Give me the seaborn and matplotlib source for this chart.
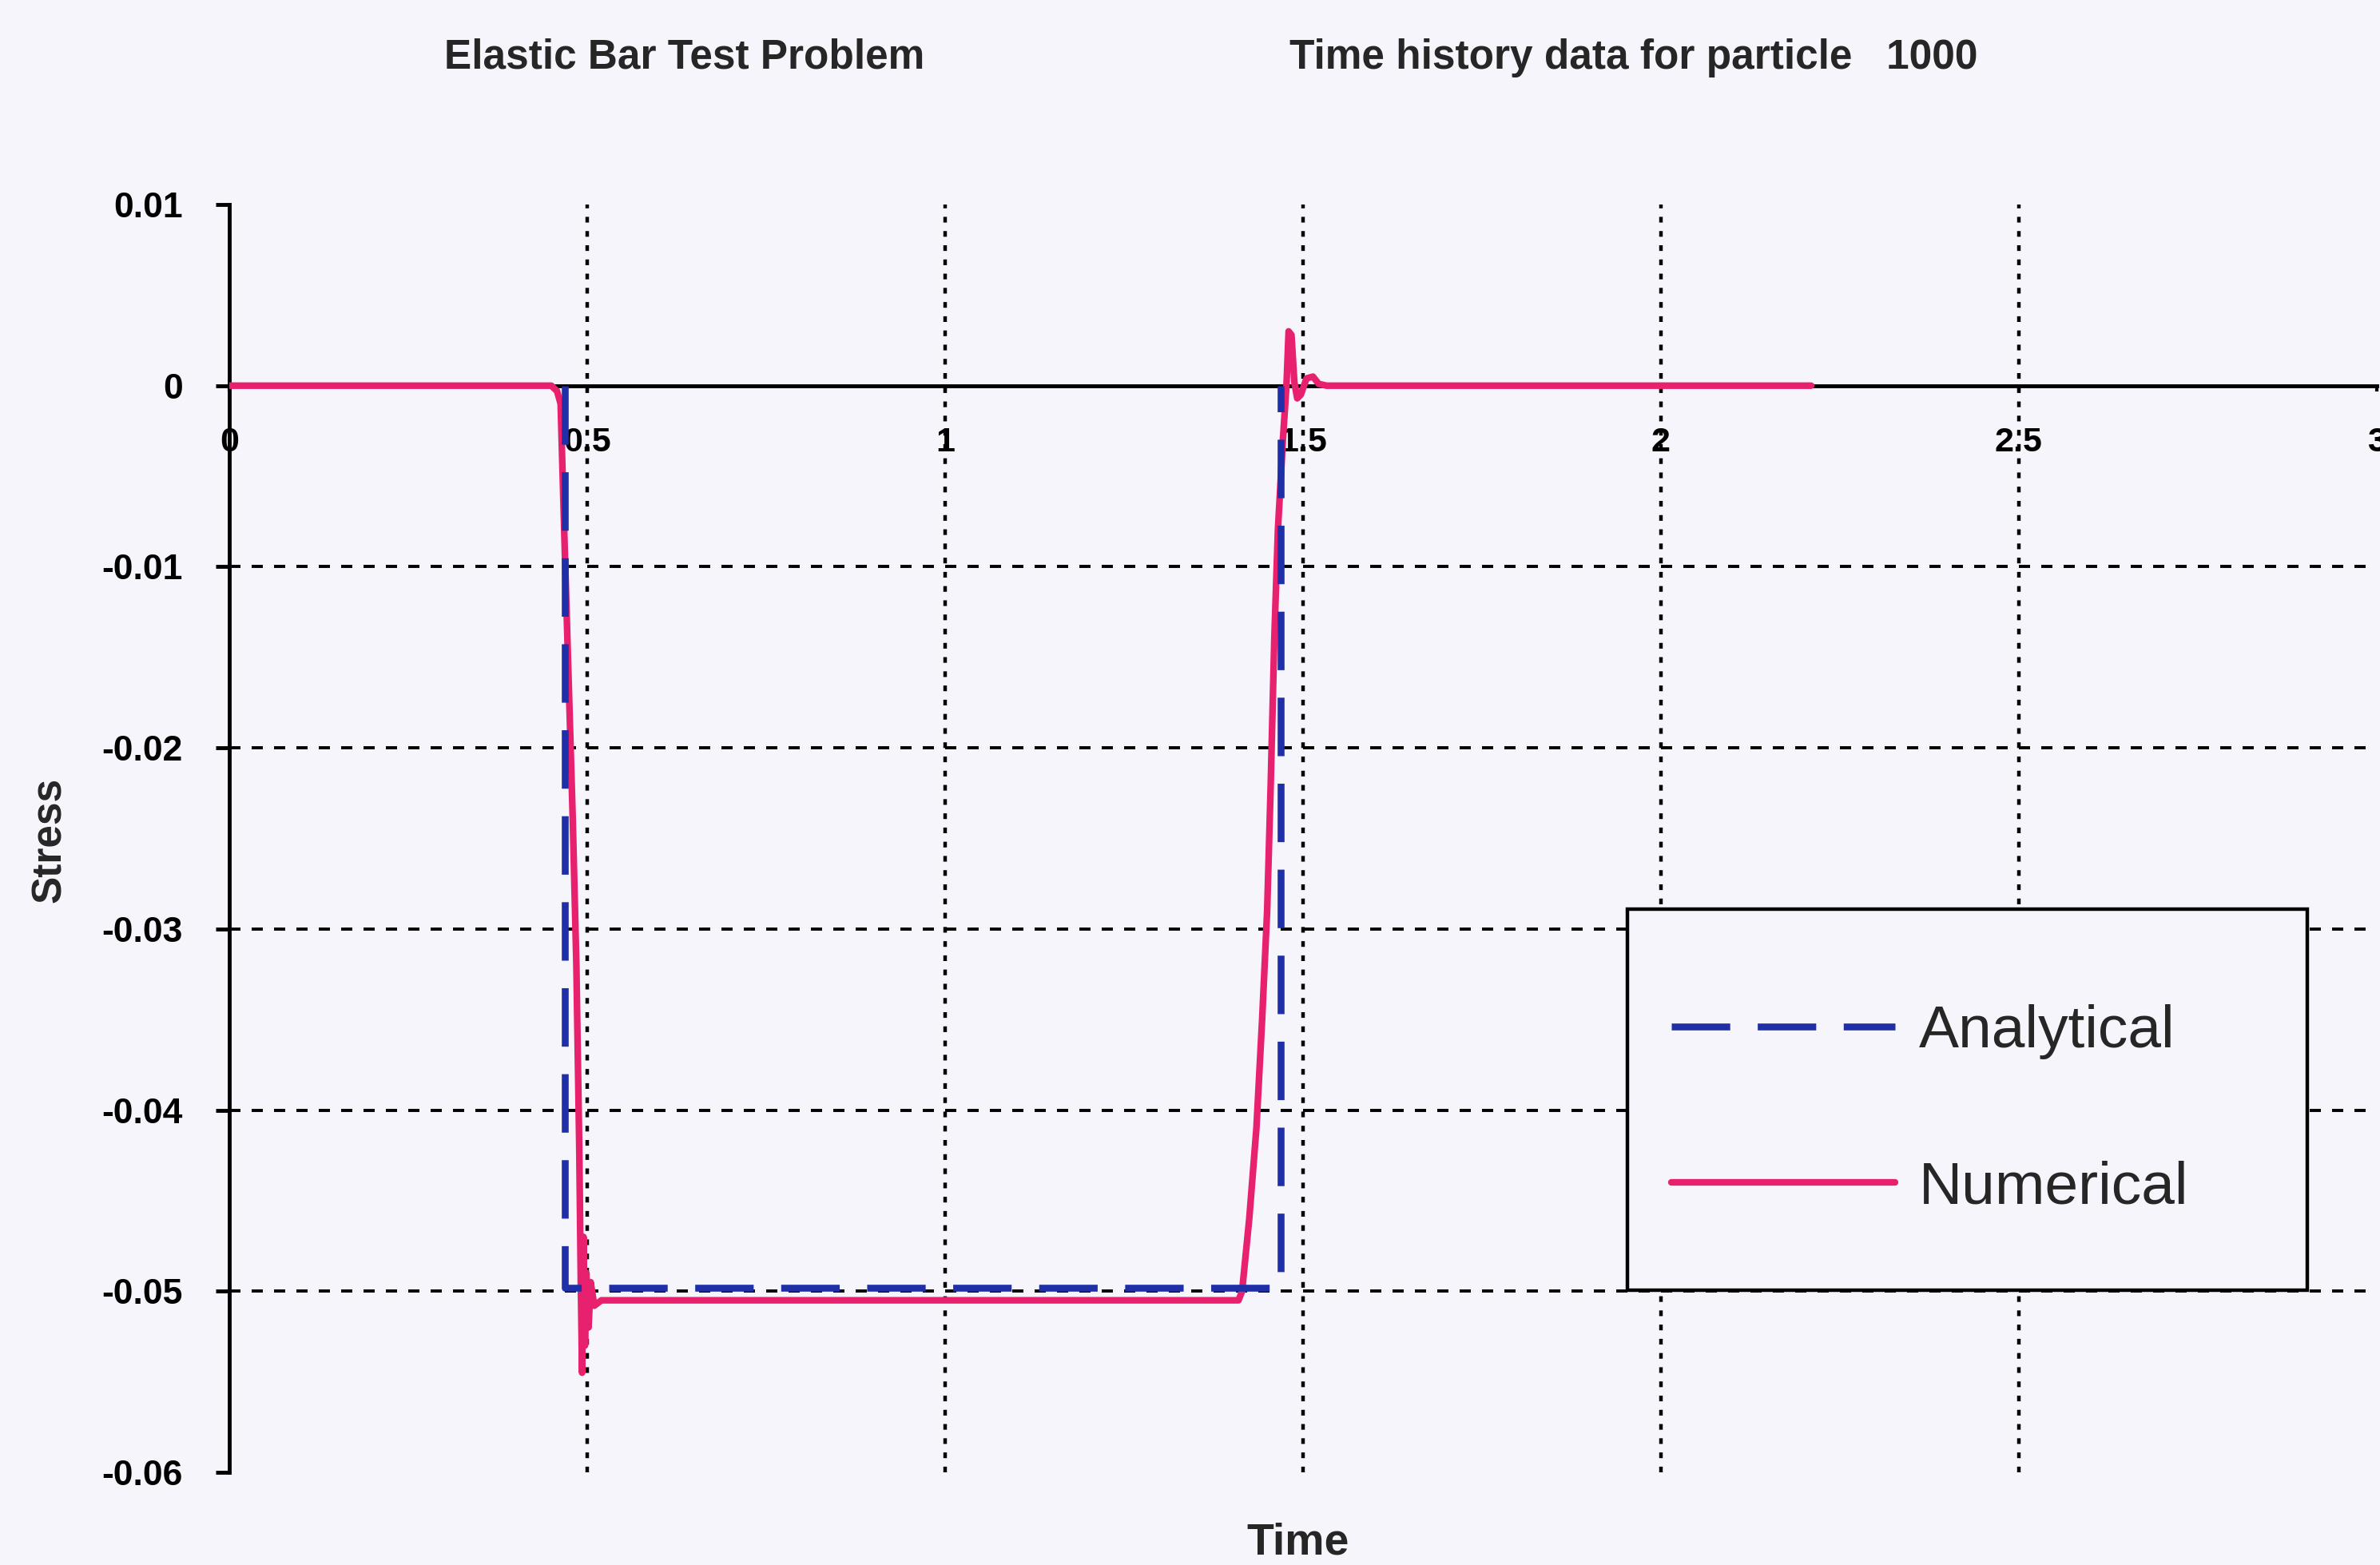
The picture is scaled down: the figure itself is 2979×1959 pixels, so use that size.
import matplotlib
matplotlib.use("Agg")
import matplotlib.pyplot as plt
import pandas as pd
import seaborn as sns
from matplotlib.patches import Rectangle

# values
analytical_time = [0.469, 0.469, 1.469, 1.469]
analytical_stress = [0.0, -0.0498, -0.0498, 0.0]

numerical_time = [0.0, 0.450, 0.458, 0.463, 0.468, 0.474, 0.480, 0.485, 0.489,
                  0.491, 0.493, 0.495, 0.497, 0.499, 0.502, 0.505, 0.510, 0.520,
                  1.410, 1.415, 1.425, 1.435, 1.443, 1.450, 1.455, 1.460, 1.465,
                  1.472, 1.477, 1.480, 1.484, 1.488, 1.492, 1.497, 1.505, 1.514,
                  1.522, 1.533, 2.210]
numerical_stress = [0.0, 0.0, -0.0003, -0.001, -0.008, -0.016, -0.024, -0.032, -0.042,
                    -0.049, -0.0545, -0.047, -0.053, -0.049, -0.052, -0.0495, -0.0508, -0.0505,
                    -0.0505, -0.0500, -0.046, -0.041, -0.035, -0.029, -0.022, -0.014, -0.008,
                    -0.003, 0.0, 0.0030, 0.0028, 0.0002, -0.0007, -0.0005, 0.0004, 0.0005,
                    0.0001, 0.0, 0.0]

x_ticks = [0, 0.5, 1, 1.5, 2, 2.5, 3]
x_labels = ["0", "0.5", "1", "1.5", "2", "2.5", "3"]
y_ticks = [0.01, 0, -0.01, -0.02, -0.03, -0.04, -0.05, -0.06]
y_labels = ["0.01", "0", "-0.01", "-0.02", "-0.03", "-0.04", "-0.05", "-0.06"]

BG = "#f7f5fc"
BLUE = "#1f2fa8"
PINK = "#e8216e"

sns.set_theme(style="white")
plt.rcParams["font.family"] = ["Liberation Sans", "DejaVu Sans"]

fig = plt.figure(figsize=(29.79, 19.59), dpi=100, facecolor=BG)
ax = fig.add_axes([0.0963, 0.0592, 0.9023, 0.8101])
ax.set_facecolor(BG)

df_an = pd.DataFrame({"Time": analytical_time, "Stress": analytical_stress})
df_num = pd.DataFrame({"Time": numerical_time, "Stress": numerical_stress})

sns.lineplot(data=df_an, x="Time", y="Stress", sort=False, estimator=None, ax=ax,
             color=BLUE, lw=6.2, linestyle=(0, (8.5, 4)), label="Analytical", zorder=4)
sns.lineplot(data=df_num, x="Time", y="Stress", sort=False, estimator=None, ax=ax,
             color=PINK, lw=6, label="Numerical", zorder=3)

ax.set_xlim(0, 3)
ax.set_ylim(-0.06, 0.01)
ax.set_xticks(x_ticks, x_labels)
ax.set_yticks(y_ticks, y_labels)
ax.set_xlabel("")
ax.set_ylabel("")

# axis lines: x axis sits at stress = 0
for side in ["top", "right"]:
    ax.spines[side].set_visible(False)
ax.spines["bottom"].set_position(("data", 0))
for side in ["left", "bottom"]:
    ax.spines[side].set_color("black")
    ax.spines[side].set_linewidth(3.5)
    ax.spines[side].set_zorder(2.5)

ax.tick_params(axis="y", direction="out", length=12, width=3.5, color="black",
               pad=30, labelsize=32, labelcolor="black", left=True)
ax.tick_params(axis="x", direction="out", length=5, width=3, color="black",
               pad=32, labelsize=31, labelcolor="black", bottom=True)
for lab in ax.get_xticklabels() + ax.get_yticklabels():
    lab.set_fontweight("bold")

# dotted grids, none on the frame edges
ax.xaxis.grid(True, color="black", lw=3.2, linestyle=(0, (1.6, 2.4)))
ax.yaxis.grid(True, color="black", lw=2.8, linestyle=(0, (3.6, 3.6)))
for val, tick in zip(x_ticks, ax.xaxis.get_major_ticks()):
    if val in (0, 3):
        tick.gridline.set_visible(False)
for val, tick in zip(y_ticks, ax.yaxis.get_major_ticks()):
    if val in (0.01, 0, -0.06):
        tick.gridline.set_visible(False)

# legend box
ax.add_patch(Rectangle((0.651, 0.144), 0.3166, 0.300, transform=ax.transAxes,
                       facecolor=BG, edgecolor="black", lw=3.2, zorder=5))
leg = ax.legend(loc="center", bbox_to_anchor=(0.792, 0.286), frameon=False,
                fontsize=54, handlelength=3.74, handletextpad=0.4,
                labelspacing=1.68, borderpad=0)
leg.set_zorder(6)

fig.text(0.2877, 0.9632, "Elastic Bar Test Problem", ha="center", va="center",
         fontsize=37, fontweight="bold")
fig.text(0.6863, 0.9632, "Time history data for particle   1000", ha="center",
         va="center", fontsize=37, fontweight="bold")
fig.text(0.0211, 0.4635, "Stress", rotation=90, ha="center", va="center",
         fontsize=37, fontweight="bold")
fig.text(0.5455, 0.0138, "Time", ha="center", va="center", fontsize=40,
         fontweight="bold")

fig.savefig("out.png", dpi=100, facecolor=BG)
